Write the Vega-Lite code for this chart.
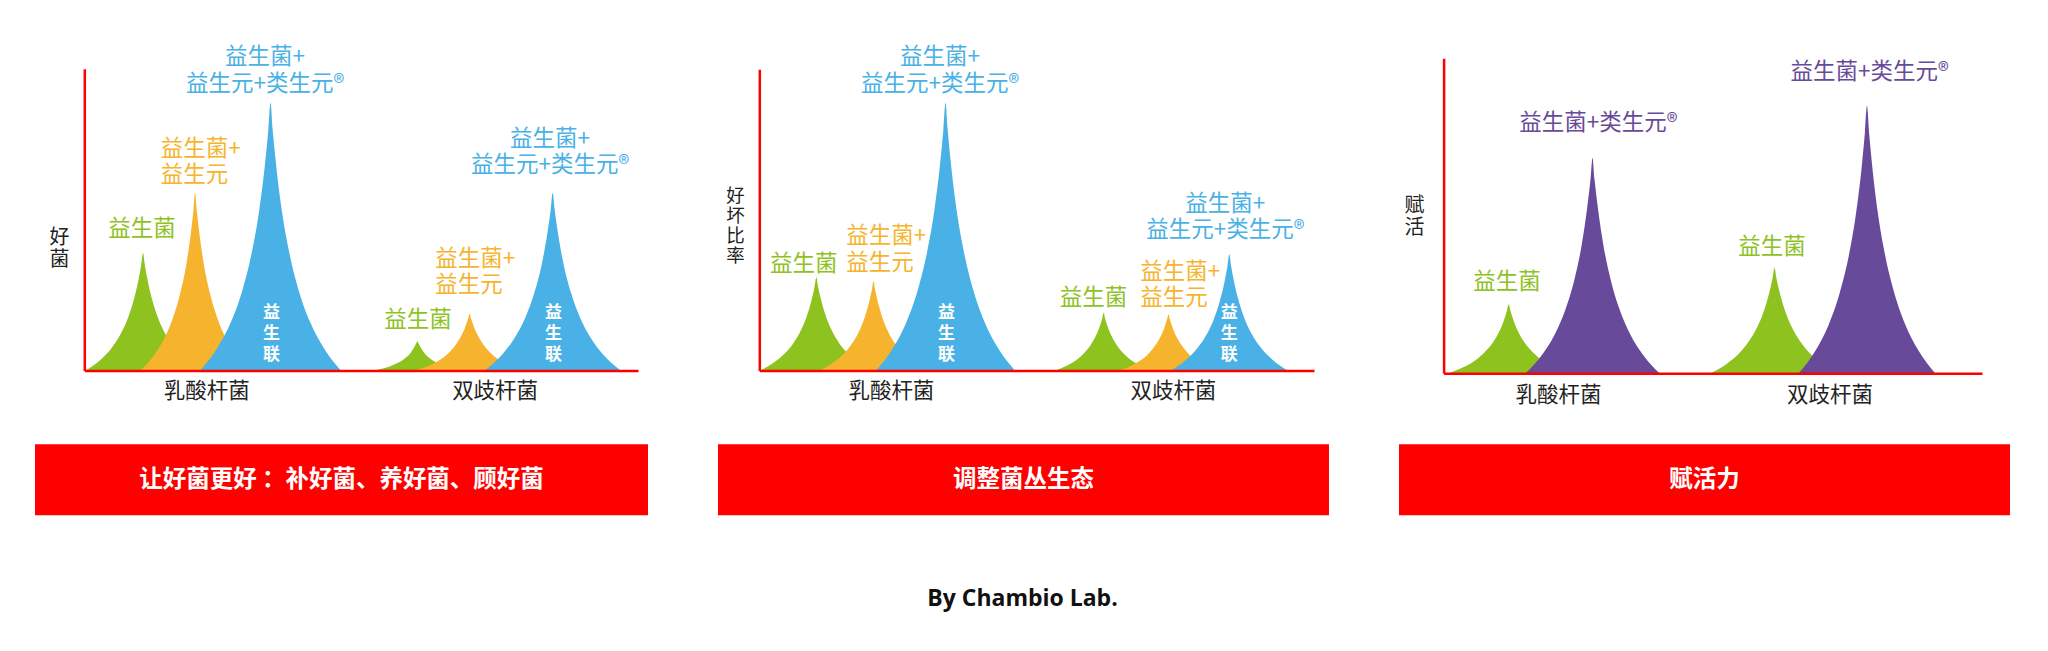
{
  "$schema": "https://vega.github.io/schema/vega-lite/v6.json",
  "padding": {"left": 35, "top": 45.3, "right": 10, "bottom": 10},
  "background": "#ffffff",
  "config": {"view": {"stroke": null}, "font": "Noto Sans CJK SC"},
  "title": {"text": "By Chambio Lab.", "orient": "bottom", "anchor": "middle", "font": "Open Sans", "fontSize": 23, "fontWeight": "bold", "color": "#111111", "offset": 72.5},
  "columns": 3,
  "align": "each",
  "bounds": "flush",
  "spacing": {"row": 71, "column": 70},
  "datasets": {
    "p1": [
      {"id":"g1","k":"g","x":0.25,"y":0},{"id":"g1","k":"g","x":2.84,"y":3.4},{"id":"g1","k":"g","x":4.80,"y":7.1},{"id":"g1","k":"g","x":6.46,"y":11.7},{"id":"g1","k":"g","x":7.81,"y":17.0},{"id":"g1","k":"g","x":8.94,"y":23.4},{"id":"g1","k":"g","x":9.77,"y":29.9},{"id":"g1","k":"g","x":10.29,"y":35.2},{"id":"g1","k":"g","x":10.60,"y":39.0},{"id":"g1","k":"g","x":10.91,"y":35.2},{"id":"g1","k":"g","x":11.43,"y":29.9},{"id":"g1","k":"g","x":12.26,"y":23.4},{"id":"g1","k":"g","x":13.39,"y":17.0},{"id":"g1","k":"g","x":14.74,"y":11.7},{"id":"g1","k":"g","x":16.40,"y":7.1},{"id":"g1","k":"g","x":18.36,"y":3.4},{"id":"g1","k":"g","x":20.95,"y":0},
      {"id":"g2","k":"g","x":52.32,"y":0},{"id":"g2","k":"g","x":54.28,"y":0.8},{"id":"g2","k":"g","x":55.77,"y":1.8},{"id":"g2","k":"g","x":57.02,"y":2.9},{"id":"g2","k":"g","x":58.04,"y":4.2},{"id":"g2","k":"g","x":58.91,"y":5.8},{"id":"g2","k":"g","x":59.53,"y":7.5},{"id":"g2","k":"g","x":59.92,"y":8.8},{"id":"g2","k":"g","x":60.16,"y":9.7},{"id":"g2","k":"g","x":60.40,"y":8.8},{"id":"g2","k":"g","x":60.79,"y":7.5},{"id":"g2","k":"g","x":61.41,"y":5.8},{"id":"g2","k":"g","x":62.28,"y":4.2},{"id":"g2","k":"g","x":63.30,"y":2.9},{"id":"g2","k":"g","x":64.55,"y":1.8},{"id":"g2","k":"g","x":66.04,"y":0.8},{"id":"g2","k":"g","x":68.00,"y":0},
      {"id":"o1","k":"o","x":10.17,"y":0},{"id":"o1","k":"o","x":12.63,"y":5.1},{"id":"o1","k":"o","x":14.50,"y":10.8},{"id":"o1","k":"o","x":16.07,"y":17.7},{"id":"o1","k":"o","x":17.35,"y":25.7},{"id":"o1","k":"o","x":18.44,"y":35.3},{"id":"o1","k":"o","x":19.22,"y":45.2},{"id":"o1","k":"o","x":19.71,"y":53.1},{"id":"o1","k":"o","x":20.01,"y":58.9},{"id":"o1","k":"o","x":20.31,"y":53.1},{"id":"o1","k":"o","x":20.80,"y":45.2},{"id":"o1","k":"o","x":21.58,"y":35.3},{"id":"o1","k":"o","x":22.67,"y":25.7},{"id":"o1","k":"o","x":23.95,"y":17.7},{"id":"o1","k":"o","x":25.52,"y":10.8},{"id":"o1","k":"o","x":27.39,"y":5.1},{"id":"o1","k":"o","x":29.85,"y":0},
      {"id":"o2","k":"o","x":59.84,"y":0},{"id":"o2","k":"o","x":62.28,"y":1.6},{"id":"o2","k":"o","x":64.13,"y":3.4},{"id":"o2","k":"o","x":65.69,"y":5.6},{"id":"o2","k":"o","x":66.96,"y":8.2},{"id":"o2","k":"o","x":68.03,"y":11.3},{"id":"o2","k":"o","x":68.81,"y":14.4},{"id":"o2","k":"o","x":69.30,"y":17.0},{"id":"o2","k":"o","x":69.59,"y":18.8},{"id":"o2","k":"o","x":69.88,"y":17.0},{"id":"o2","k":"o","x":70.37,"y":14.4},{"id":"o2","k":"o","x":71.15,"y":11.3},{"id":"o2","k":"o","x":72.22,"y":8.2},{"id":"o2","k":"o","x":73.49,"y":5.6},{"id":"o2","k":"o","x":75.05,"y":3.4},{"id":"o2","k":"o","x":76.90,"y":1.6},{"id":"o2","k":"o","x":79.34,"y":0},
      {"id":"b1","k":"b","x":20.93,"y":0},{"id":"b1","k":"b","x":24.10,"y":7.7},{"id":"b1","k":"b","x":26.52,"y":16.2},{"id":"b1","k":"b","x":28.55,"y":26.6},{"id":"b1","k":"b","x":30.20,"y":38.7},{"id":"b1","k":"b","x":31.60,"y":53.2},{"id":"b1","k":"b","x":32.61,"y":68.0},{"id":"b1","k":"b","x":33.25,"y":80.0},{"id":"b1","k":"b","x":33.63,"y":88.7},{"id":"b1","k":"b","x":34.01,"y":80.0},{"id":"b1","k":"b","x":34.65,"y":68.0},{"id":"b1","k":"b","x":35.66,"y":53.2},{"id":"b1","k":"b","x":37.06,"y":38.7},{"id":"b1","k":"b","x":38.71,"y":26.6},{"id":"b1","k":"b","x":40.74,"y":16.2},{"id":"b1","k":"b","x":43.16,"y":7.7},{"id":"b1","k":"b","x":46.33,"y":0},
      {"id":"b2","k":"b","x":72.34,"y":0},{"id":"b2","k":"b","x":75.40,"y":5.1},{"id":"b2","k":"b","x":77.73,"y":10.8},{"id":"b2","k":"b","x":79.69,"y":17.7},{"id":"b2","k":"b","x":81.28,"y":25.7},{"id":"b2","k":"b","x":82.63,"y":35.3},{"id":"b2","k":"b","x":83.61,"y":45.2},{"id":"b2","k":"b","x":84.22,"y":53.1},{"id":"b2","k":"b","x":84.59,"y":58.9},{"id":"b2","k":"b","x":84.96,"y":53.1},{"id":"b2","k":"b","x":85.57,"y":45.2},{"id":"b2","k":"b","x":86.55,"y":35.3},{"id":"b2","k":"b","x":87.90,"y":25.7},{"id":"b2","k":"b","x":89.49,"y":17.7},{"id":"b2","k":"b","x":91.45,"y":10.8},{"id":"b2","k":"b","x":93.78,"y":5.1},{"id":"b2","k":"b","x":96.84,"y":0}
    ],
    "p2": [
      {"id":"g1","k":"g","x":0.18,"y":0},{"id":"g1","k":"g","x":2.70,"y":2.7},{"id":"g1","k":"g","x":4.62,"y":5.7},{"id":"g1","k":"g","x":6.24,"y":9.3},{"id":"g1","k":"g","x":7.55,"y":13.5},{"id":"g1","k":"g","x":8.66,"y":18.6},{"id":"g1","k":"g","x":9.47,"y":23.8},{"id":"g1","k":"g","x":9.98,"y":28.0},{"id":"g1","k":"g","x":10.28,"y":31.0},{"id":"g1","k":"g","x":10.58,"y":28.0},{"id":"g1","k":"g","x":11.09,"y":23.8},{"id":"g1","k":"g","x":11.90,"y":18.6},{"id":"g1","k":"g","x":13.01,"y":13.5},{"id":"g1","k":"g","x":14.32,"y":9.3},{"id":"g1","k":"g","x":15.94,"y":5.7},{"id":"g1","k":"g","x":17.86,"y":2.7},{"id":"g1","k":"g","x":20.38,"y":0},
      {"id":"g2","k":"g","x":53.32,"y":0},{"id":"g2","k":"g","x":55.51,"y":1.7},{"id":"g2","k":"g","x":57.17,"y":3.5},{"id":"g2","k":"g","x":58.58,"y":5.8},{"id":"g2","k":"g","x":59.71,"y":8.4},{"id":"g2","k":"g","x":60.68,"y":11.5},{"id":"g2","k":"g","x":61.38,"y":14.7},{"id":"g2","k":"g","x":61.82,"y":17.3},{"id":"g2","k":"g","x":62.08,"y":19.2},{"id":"g2","k":"g","x":62.34,"y":17.3},{"id":"g2","k":"g","x":62.78,"y":14.7},{"id":"g2","k":"g","x":63.48,"y":11.5},{"id":"g2","k":"g","x":64.45,"y":8.4},{"id":"g2","k":"g","x":65.58,"y":5.8},{"id":"g2","k":"g","x":66.99,"y":3.5},{"id":"g2","k":"g","x":68.65,"y":1.7},{"id":"g2","k":"g","x":70.84,"y":0},
      {"id":"o1","k":"o","x":10.85,"y":0},{"id":"o1","k":"o","x":13.28,"y":2.6},{"id":"o1","k":"o","x":15.14,"y":5.4},{"id":"o1","k":"o","x":16.69,"y":8.9},{"id":"o1","k":"o","x":17.96,"y":12.9},{"id":"o1","k":"o","x":19.03,"y":17.8},{"id":"o1","k":"o","x":19.81,"y":22.8},{"id":"o1","k":"o","x":20.30,"y":26.8},{"id":"o1","k":"o","x":20.59,"y":29.7},{"id":"o1","k":"o","x":20.88,"y":26.8},{"id":"o1","k":"o","x":21.37,"y":22.8},{"id":"o1","k":"o","x":22.15,"y":17.8},{"id":"o1","k":"o","x":23.22,"y":12.9},{"id":"o1","k":"o","x":24.49,"y":8.9},{"id":"o1","k":"o","x":26.04,"y":5.4},{"id":"o1","k":"o","x":27.90,"y":2.6},{"id":"o1","k":"o","x":30.33,"y":0},
      {"id":"o2","k":"o","x":64.77,"y":0},{"id":"o2","k":"o","x":67.02,"y":1.6},{"id":"o2","k":"o","x":68.73,"y":3.4},{"id":"o2","k":"o","x":70.17,"y":5.6},{"id":"o2","k":"o","x":71.34,"y":8.2},{"id":"o2","k":"o","x":72.33,"y":11.2},{"id":"o2","k":"o","x":73.05,"y":14.3},{"id":"o2","k":"o","x":73.50,"y":16.9},{"id":"o2","k":"o","x":73.77,"y":18.7},{"id":"o2","k":"o","x":74.04,"y":16.9},{"id":"o2","k":"o","x":74.49,"y":14.3},{"id":"o2","k":"o","x":75.21,"y":11.2},{"id":"o2","k":"o","x":76.20,"y":8.2},{"id":"o2","k":"o","x":77.37,"y":5.6},{"id":"o2","k":"o","x":78.81,"y":3.4},{"id":"o2","k":"o","x":80.52,"y":1.6},{"id":"o2","k":"o","x":82.77,"y":0},
      {"id":"b1","k":"b","x":21.07,"y":0},{"id":"b1","k":"b","x":24.19,"y":7.7},{"id":"b1","k":"b","x":26.57,"y":16.3},{"id":"b1","k":"b","x":28.57,"y":26.7},{"id":"b1","k":"b","x":30.19,"y":38.8},{"id":"b1","k":"b","x":31.57,"y":53.3},{"id":"b1","k":"b","x":32.57,"y":68.2},{"id":"b1","k":"b","x":33.19,"y":80.2},{"id":"b1","k":"b","x":33.57,"y":88.9},{"id":"b1","k":"b","x":33.95,"y":80.2},{"id":"b1","k":"b","x":34.57,"y":68.2},{"id":"b1","k":"b","x":35.57,"y":53.3},{"id":"b1","k":"b","x":36.95,"y":38.8},{"id":"b1","k":"b","x":38.57,"y":26.7},{"id":"b1","k":"b","x":40.57,"y":16.3},{"id":"b1","k":"b","x":42.95,"y":7.7},{"id":"b1","k":"b","x":46.07,"y":0},
      {"id":"b2","k":"b","x":74.23,"y":0},{"id":"b2","k":"b","x":76.85,"y":3.4},{"id":"b2","k":"b","x":78.85,"y":7.1},{"id":"b2","k":"b","x":80.53,"y":11.6},{"id":"b2","k":"b","x":81.89,"y":16.8},{"id":"b2","k":"b","x":83.05,"y":23.2},{"id":"b2","k":"b","x":83.89,"y":29.6},{"id":"b2","k":"b","x":84.41,"y":34.8},{"id":"b2","k":"b","x":84.73,"y":38.6},{"id":"b2","k":"b","x":85.05,"y":34.8},{"id":"b2","k":"b","x":85.57,"y":29.6},{"id":"b2","k":"b","x":86.41,"y":23.2},{"id":"b2","k":"b","x":87.57,"y":16.8},{"id":"b2","k":"b","x":88.93,"y":11.6},{"id":"b2","k":"b","x":90.61,"y":7.1},{"id":"b2","k":"b","x":92.61,"y":3.4},{"id":"b2","k":"b","x":95.23,"y":0}
    ],
    "p3": [
      {"id":"g1","k":"g","x":0.82,"y":0},{"id":"g1","k":"g","x":3.64,"y":1.9},{"id":"g1","k":"g","x":5.78,"y":4.0},{"id":"g1","k":"g","x":7.58,"y":6.6},{"id":"g1","k":"g","x":9.05,"y":9.5},{"id":"g1","k":"g","x":10.29,"y":13.1},{"id":"g1","k":"g","x":11.19,"y":16.8},{"id":"g1","k":"g","x":11.75,"y":19.8},{"id":"g1","k":"g","x":12.09,"y":21.9},{"id":"g1","k":"g","x":12.43,"y":19.8},{"id":"g1","k":"g","x":12.99,"y":16.8},{"id":"g1","k":"g","x":13.89,"y":13.1},{"id":"g1","k":"g","x":15.13,"y":9.5},{"id":"g1","k":"g","x":16.60,"y":6.6},{"id":"g1","k":"g","x":18.40,"y":4.0},{"id":"g1","k":"g","x":20.54,"y":1.9},{"id":"g1","k":"g","x":23.36,"y":0},
      {"id":"g2","k":"g","x":49.52,"y":0},{"id":"g2","k":"g","x":52.50,"y":2.9},{"id":"g2","k":"g","x":54.77,"y":6.1},{"id":"g2","k":"g","x":56.68,"y":10.1},{"id":"g2","k":"g","x":58.24,"y":14.6},{"id":"g2","k":"g","x":59.55,"y":20.1},{"id":"g2","k":"g","x":60.50,"y":25.7},{"id":"g2","k":"g","x":61.10,"y":30.2},{"id":"g2","k":"g","x":61.46,"y":33.5},{"id":"g2","k":"g","x":61.82,"y":30.2},{"id":"g2","k":"g","x":62.42,"y":25.7},{"id":"g2","k":"g","x":63.37,"y":20.1},{"id":"g2","k":"g","x":64.68,"y":14.6},{"id":"g2","k":"g","x":66.24,"y":10.1},{"id":"g2","k":"g","x":68.15,"y":6.1},{"id":"g2","k":"g","x":70.42,"y":2.9},{"id":"g2","k":"g","x":73.40,"y":0},
      {"id":"p1","k":"p","x":15.22,"y":0},{"id":"p1","k":"p","x":18.33,"y":6.0},{"id":"p1","k":"p","x":20.69,"y":12.5},{"id":"p1","k":"p","x":22.68,"y":20.5},{"id":"p1","k":"p","x":24.30,"y":29.8},{"id":"p1","k":"p","x":25.67,"y":41.0},{"id":"p1","k":"p","x":26.66,"y":52.5},{"id":"p1","k":"p","x":27.29,"y":61.7},{"id":"p1","k":"p","x":27.66,"y":68.4},{"id":"p1","k":"p","x":28.03,"y":61.7},{"id":"p1","k":"p","x":28.66,"y":52.5},{"id":"p1","k":"p","x":29.65,"y":41.0},{"id":"p1","k":"p","x":31.02,"y":29.8},{"id":"p1","k":"p","x":32.64,"y":20.5},{"id":"p1","k":"p","x":34.63,"y":12.5},{"id":"p1","k":"p","x":36.99,"y":6.0},{"id":"p1","k":"p","x":40.10,"y":0},
      {"id":"p2","k":"p","x":65.97,"y":0},{"id":"p2","k":"p","x":69.14,"y":7.4},{"id":"p2","k":"p","x":71.54,"y":15.5},{"id":"p2","k":"p","x":73.57,"y":25.5},{"id":"p2","k":"p","x":75.22,"y":37.0},{"id":"p2","k":"p","x":76.61,"y":50.9},{"id":"p2","k":"p","x":77.63,"y":65.1},{"id":"p2","k":"p","x":78.26,"y":76.6},{"id":"p2","k":"p","x":78.64,"y":84.9},{"id":"p2","k":"p","x":79.02,"y":76.6},{"id":"p2","k":"p","x":79.65,"y":65.1},{"id":"p2","k":"p","x":80.66,"y":50.9},{"id":"p2","k":"p","x":82.06,"y":37.0},{"id":"p2","k":"p","x":83.71,"y":25.5},{"id":"p2","k":"p","x":85.74,"y":15.5},{"id":"p2","k":"p","x":88.14,"y":7.4},{"id":"p2","k":"p","x":91.31,"y":0}
    ],
    "l1": [
      {"t":"益生菌","k":"g","x":10.42,"y":47.0},
      {"t":"益生菌+\n益生元","k":"o","x":13.80,"y":73.5},
      {"t":"益生菌+\n益生元+类生元®","k":"b","x":32.64,"y":103.8},
      {"t":"益生菌","k":"g","x":60.25,"y":16.6},
      {"t":"益生菌+\n益生元","k":"o","x":63.39,"y":37.0},
      {"t":"益生菌+\n益生元+类生元®","k":"b","x":84.11,"y":76.8},
      {"t":"益\n生\n联","k":"w","x":33.83,"y":18.9},
      {"t":"益\n生\n联","k":"w","x":84.76,"y":18.9}
    ],
    "l2": [
      {"t":"益生菌","k":"g","x":8.00,"y":35.3},
      {"t":"益生菌+\n益生元","k":"o","x":15.67,"y":44.5},
      {"t":"益生菌+\n益生元+类生元®","k":"b","x":32.58,"y":104.0},
      {"t":"益生菌","k":"g","x":60.25,"y":24.1},
      {"t":"益生菌+\n益生元","k":"o","x":68.69,"y":32.7},
      {"t":"益生菌+\n益生元+类生元®","k":"b","x":84.01,"y":55.4},
      {"t":"益\n生\n联","k":"w","x":33.73,"y":19.1},
      {"t":"益\n生\n联","k":"w","x":84.73,"y":19.1}
    ],
    "l3": [
      {"t":"益生菌","k":"g","x":11.78,"y":28.95},
      {"t":"益生菌+类生元®","k":"p","x":28.75,"y":79.45},
      {"t":"益生菌","k":"g","x":61.0,"y":39.95},
      {"t":"益生菌+类生元®","k":"p","x":79.12,"y":95.65}
    ]
  },
  "concat": [
    {
      "width": 613, "height": 312.1,
      "encoding": {
        "x": {"field": "x", "type": "quantitative", "scale": {"domain": [0, 100], "range": [49.3, 603], "nice": false, "zero": false},
          "axis": {"values": [22.03, 74.10], "labelExpr": "datum.value < 50 ? '乳酸杆菌' : '双歧杆菌'", "title": null, "grid": false, "ticks": false, "tickSize": 0, "labelPadding": 10, "labelFontSize": 21.5, "labelColor": "#222222", "labelFont": "Noto Sans CJK SC", "labelFlush": false, "labelOverlap": false, "domainColor": "#ff0000", "domainWidth": 2.5, "zindex": 1}},
        "y": {"field": "y", "type": "quantitative", "stack": null, "scale": {"domain": [0, 100], "range": [312.1, 10.4], "nice": false, "zero": false},
          "axis": {"orient": "left", "offset": -49.3, "title": ["好", "菌"], "titleAngle": 0, "titleX": -25.4, "titleY": 179.7, "titleAlign": "center", "titleBaseline": "middle", "titleFontSize": 20, "titleFontWeight": "normal", "titleFont": "Noto Sans CJK SC", "titleColor": "#222222", "titleLineHeight": 22, "labels": false, "ticks": false, "tickSize": 0, "grid": false, "domainColor": "#ff0000", "domainWidth": 2.5, "zindex": 1}}
      },
      "layer": [
        {"data": {"name": "p1"}, "transform": [{"filter": "datum.k == 'g'"}], "mark": {"type": "area", "interpolate": "monotone", "opacity": 1}, "encoding": {"detail": {"field": "id"}, "color": {"field": "k", "type": "nominal", "legend": null, "scale": {"domain": ["g", "o", "b", "p", "w"], "range": ["#8dc21f", "#f6b42e", "#49b1e5", "#684a9a", "#ffffff"]}}}},
        {"data": {"name": "p1"}, "transform": [{"filter": "datum.k == 'o'"}], "mark": {"type": "area", "interpolate": "monotone", "opacity": 1}, "encoding": {"detail": {"field": "id"}, "color": {"field": "k", "type": "nominal", "legend": null, "scale": {"domain": ["g", "o", "b", "p", "w"], "range": ["#8dc21f", "#f6b42e", "#49b1e5", "#684a9a", "#ffffff"]}}}},
        {"data": {"name": "p1"}, "transform": [{"filter": "datum.k == 'b'"}], "mark": {"type": "area", "interpolate": "monotone", "opacity": 1}, "encoding": {"detail": {"field": "id"}, "color": {"field": "k", "type": "nominal", "legend": null, "scale": {"domain": ["g", "o", "b", "p", "w"], "range": ["#8dc21f", "#f6b42e", "#49b1e5", "#684a9a", "#ffffff"]}}}},
        {"data": {"name": "l1"}, "transform": [{"filter": "datum.k == 'g' || datum.k == 'b'"}], "mark": {"type": "text", "align": "center", "baseline": "middle", "fontSize": 22.5, "lineBreak": "\n", "lineHeight": 26.5, "font": "Noto Sans CJK SC"}, "encoding": {"text": {"field": "t"}, "color": {"field": "k", "type": "nominal", "legend": null, "scale": {"domain": ["g", "o", "b", "p", "w"], "range": ["#8dc21f", "#f6b42e", "#49b1e5", "#684a9a", "#ffffff"]}}}},
        {"data": {"name": "l1"}, "transform": [{"filter": "datum.k == 'o'"}], "mark": {"type": "text", "align": "left", "baseline": "middle", "fontSize": 22.5, "lineBreak": "\n", "lineHeight": 26.5, "font": "Noto Sans CJK SC"}, "encoding": {"text": {"field": "t"}, "color": {"field": "k", "type": "nominal", "legend": null, "scale": {"domain": ["g", "o", "b", "p", "w"], "range": ["#8dc21f", "#f6b42e", "#49b1e5", "#684a9a", "#ffffff"]}}}},
        {"data": {"name": "l1"}, "transform": [{"filter": "datum.k == 'w'"}], "mark": {"type": "text", "align": "center", "baseline": "middle", "fontSize": 17, "fontWeight": "bold", "lineBreak": "\n", "lineHeight": 21, "font": "Noto Sans CJK SC"}, "encoding": {"text": {"field": "t"}, "color": {"field": "k", "type": "nominal", "legend": null, "scale": {"domain": ["g", "o", "b", "p", "w"], "range": ["#8dc21f", "#f6b42e", "#49b1e5", "#684a9a", "#ffffff"]}}}}
      ]
    },
    {
      "width": 611, "height": 312.2,
      "encoding": {
        "x": {"field": "x", "type": "quantitative", "scale": {"domain": [0, 100], "range": [41.3, 596], "nice": false, "zero": false},
          "axis": {"values": [23.72, 74.56], "labelExpr": "datum.value < 50 ? '乳酸杆菌' : '双歧杆菌'", "title": null, "grid": false, "ticks": false, "tickSize": 0, "labelPadding": 10, "labelFontSize": 21.5, "labelColor": "#222222", "labelFont": "Noto Sans CJK SC", "labelFlush": false, "labelOverlap": false, "domainColor": "#ff0000", "domainWidth": 2.5, "zindex": 1}},
        "y": {"field": "y", "type": "quantitative", "stack": null, "scale": {"domain": [0, 100], "range": [312.2, 11.0], "nice": false, "zero": false},
          "axis": {"orient": "left", "offset": -41.3, "title": ["好", "坏", "比", "率"], "titleAngle": 0, "titleX": -24.3, "titleY": 137.7, "titleAlign": "center", "titleBaseline": "middle", "titleFontSize": 18.5, "titleFontWeight": "normal", "titleFont": "Noto Sans CJK SC", "titleColor": "#222222", "titleLineHeight": 20, "labels": false, "ticks": false, "tickSize": 0, "grid": false, "domainColor": "#ff0000", "domainWidth": 2.5, "zindex": 1}}
      },
      "layer": [
        {"data": {"name": "p2"}, "transform": [{"filter": "datum.k == 'g'"}], "mark": {"type": "area", "interpolate": "monotone", "opacity": 1}, "encoding": {"detail": {"field": "id"}, "color": {"field": "k", "type": "nominal", "legend": null, "scale": {"domain": ["g", "o", "b", "p", "w"], "range": ["#8dc21f", "#f6b42e", "#49b1e5", "#684a9a", "#ffffff"]}}}},
        {"data": {"name": "p2"}, "transform": [{"filter": "datum.k == 'o'"}], "mark": {"type": "area", "interpolate": "monotone", "opacity": 1}, "encoding": {"detail": {"field": "id"}, "color": {"field": "k", "type": "nominal", "legend": null, "scale": {"domain": ["g", "o", "b", "p", "w"], "range": ["#8dc21f", "#f6b42e", "#49b1e5", "#684a9a", "#ffffff"]}}}},
        {"data": {"name": "p2"}, "transform": [{"filter": "datum.k == 'b'"}], "mark": {"type": "area", "interpolate": "monotone", "opacity": 1}, "encoding": {"detail": {"field": "id"}, "color": {"field": "k", "type": "nominal", "legend": null, "scale": {"domain": ["g", "o", "b", "p", "w"], "range": ["#8dc21f", "#f6b42e", "#49b1e5", "#684a9a", "#ffffff"]}}}},
        {"data": {"name": "l2"}, "transform": [{"filter": "datum.k == 'g' || datum.k == 'b'"}], "mark": {"type": "text", "align": "center", "baseline": "middle", "fontSize": 22.5, "lineBreak": "\n", "lineHeight": 26.5, "font": "Noto Sans CJK SC"}, "encoding": {"text": {"field": "t"}, "color": {"field": "k", "type": "nominal", "legend": null, "scale": {"domain": ["g", "o", "b", "p", "w"], "range": ["#8dc21f", "#f6b42e", "#49b1e5", "#684a9a", "#ffffff"]}}}},
        {"data": {"name": "l2"}, "transform": [{"filter": "datum.k == 'o'"}], "mark": {"type": "text", "align": "left", "baseline": "middle", "fontSize": 22.5, "lineBreak": "\n", "lineHeight": 26.5, "font": "Noto Sans CJK SC"}, "encoding": {"text": {"field": "t"}, "color": {"field": "k", "type": "nominal", "legend": null, "scale": {"domain": ["g", "o", "b", "p", "w"], "range": ["#8dc21f", "#f6b42e", "#49b1e5", "#684a9a", "#ffffff"]}}}},
        {"data": {"name": "l2"}, "transform": [{"filter": "datum.k == 'w'"}], "mark": {"type": "text", "align": "center", "baseline": "middle", "fontSize": 17, "fontWeight": "bold", "lineBreak": "\n", "lineHeight": 21, "font": "Noto Sans CJK SC"}, "encoding": {"text": {"field": "t"}, "color": {"field": "k", "type": "nominal", "legend": null, "scale": {"domain": ["g", "o", "b", "p", "w"], "range": ["#8dc21f", "#f6b42e", "#49b1e5", "#684a9a", "#ffffff"]}}}}
      ]
    },
    {
      "width": 611, "height": 315,
      "encoding": {
        "x": {"field": "x", "type": "quantitative", "scale": {"domain": [0, 100], "range": [44.6, 583], "nice": false, "zero": false},
          "axis": {"values": [21.25, 71.67], "labelExpr": "datum.value < 50 ? '乳酸杆菌' : '双歧杆菌'", "title": null, "grid": false, "ticks": false, "tickSize": 0, "labelPadding": 11, "labelFontSize": 21.5, "labelColor": "#222222", "labelFont": "Noto Sans CJK SC", "labelFlush": false, "labelOverlap": false, "domainColor": "#ff0000", "domainWidth": 2.5, "zindex": 1}},
        "y": {"field": "y", "type": "quantitative", "stack": null, "scale": {"domain": [0, 100], "range": [315, 0], "nice": false, "zero": false},
          "axis": {"orient": "left", "offset": -44.6, "title": ["赋", "活"], "titleAngle": 0, "titleX": -29.6, "titleY": 147.7, "titleAlign": "center", "titleBaseline": "middle", "titleFontSize": 20, "titleFontWeight": "normal", "titleFont": "Noto Sans CJK SC", "titleColor": "#222222", "titleLineHeight": 22, "labels": false, "ticks": false, "tickSize": 0, "grid": false, "domainColor": "#ff0000", "domainWidth": 2.5, "zindex": 1}}
      },
      "layer": [
        {"data": {"name": "p3"}, "transform": [{"filter": "datum.k == 'g'"}], "mark": {"type": "area", "interpolate": "monotone", "opacity": 1}, "encoding": {"detail": {"field": "id"}, "color": {"field": "k", "type": "nominal", "legend": null, "scale": {"domain": ["g", "o", "b", "p", "w"], "range": ["#8dc21f", "#f6b42e", "#49b1e5", "#684a9a", "#ffffff"]}}}},
        {"data": {"name": "p3"}, "transform": [{"filter": "datum.k == 'p'"}], "mark": {"type": "area", "interpolate": "monotone", "opacity": 1}, "encoding": {"detail": {"field": "id"}, "color": {"field": "k", "type": "nominal", "legend": null, "scale": {"domain": ["g", "o", "b", "p", "w"], "range": ["#8dc21f", "#f6b42e", "#49b1e5", "#684a9a", "#ffffff"]}}}},
        {"data": {"name": "l3"}, "mark": {"type": "text", "align": "center", "baseline": "middle", "fontSize": 22.5, "lineBreak": "\n", "lineHeight": 26.5, "font": "Noto Sans CJK SC"}, "encoding": {"text": {"field": "t"}, "color": {"field": "k", "type": "nominal", "legend": null, "scale": {"domain": ["g", "o", "b", "p", "w"], "range": ["#8dc21f", "#f6b42e", "#49b1e5", "#684a9a", "#ffffff"]}}}}
      ]
    },
    {
      "width": 613, "height": 71,
      "data": {"values": [{"t": "让好菌更好 ：补好菌、养好菌、顾好菌"}]},
      "layer": [
        {"mark": {"type": "rect", "color": "#ff0000"}, "encoding": {}},
        {"mark": {"type": "text", "color": "#ffffff", "fontSize": 23.5, "fontWeight": "bold", "font": "Noto Sans CJK SC", "baseline": "middle", "align": "center"}, "encoding": {"text": {"field": "t"}}}
      ]
    },
    {
      "width": 611, "height": 71,
      "data": {"values": [{"t": "调整菌丛生态"}]},
      "layer": [
        {"mark": {"type": "rect", "color": "#ff0000"}, "encoding": {}},
        {"mark": {"type": "text", "color": "#ffffff", "fontSize": 23.5, "fontWeight": "bold", "font": "Noto Sans CJK SC", "baseline": "middle", "align": "center"}, "encoding": {"text": {"field": "t"}}}
      ]
    },
    {
      "width": 611, "height": 71,
      "data": {"values": [{"t": "赋活力"}]},
      "layer": [
        {"mark": {"type": "rect", "color": "#ff0000"}, "encoding": {}},
        {"mark": {"type": "text", "color": "#ffffff", "fontSize": 23.5, "fontWeight": "bold", "font": "Noto Sans CJK SC", "baseline": "middle", "align": "center"}, "encoding": {"text": {"field": "t"}}}
      ]
    }
  ]
}
